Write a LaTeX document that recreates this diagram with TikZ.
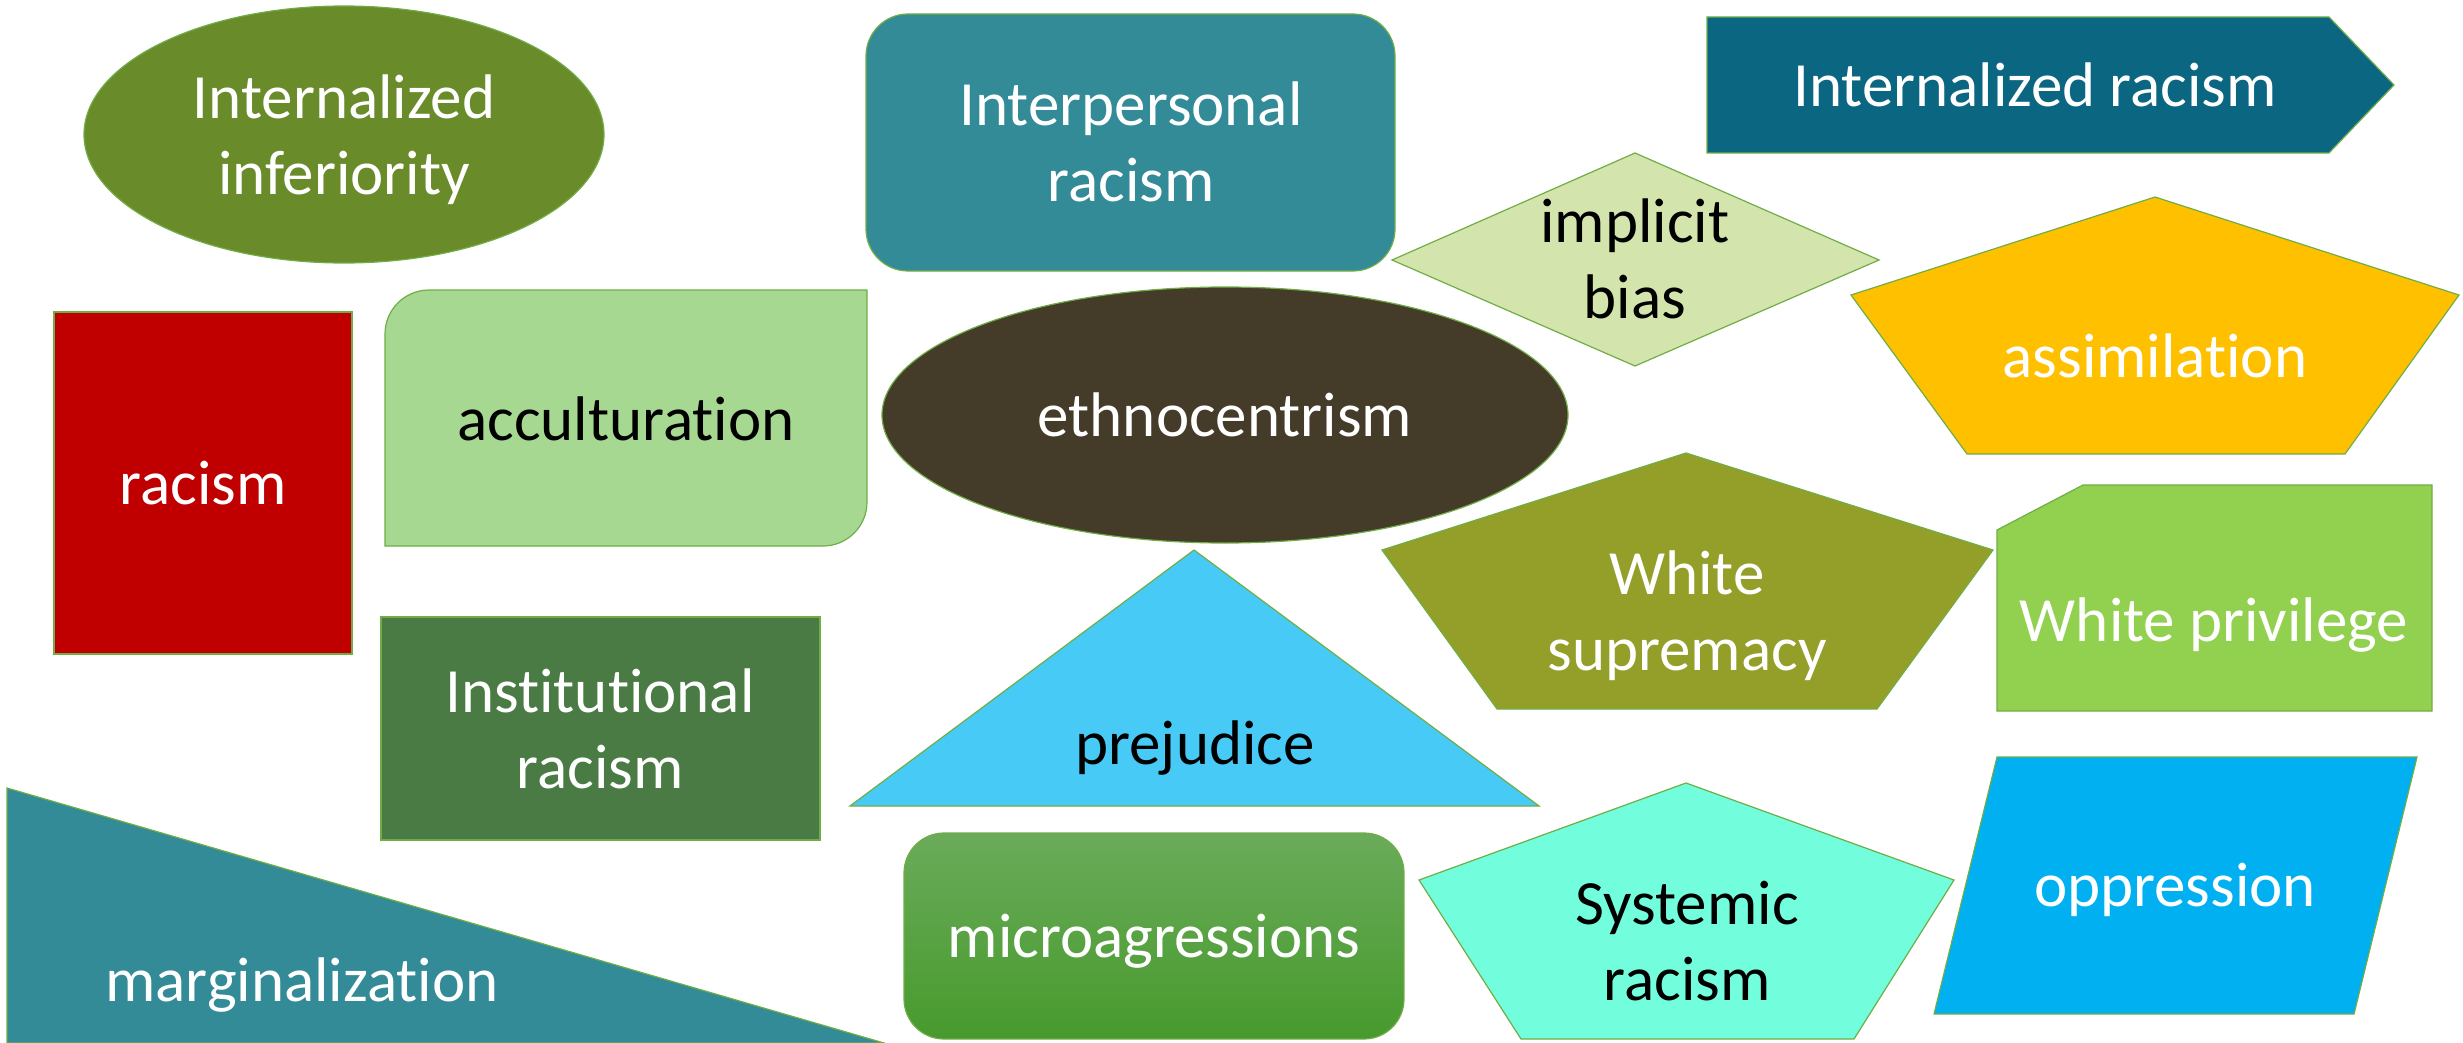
\documentclass[tikz,border=0pt]{standalone}
\usepackage{fontspec}
\setmainfont{Carlito}[Ligatures=NoCommon]
\definecolor{olv}{HTML}{6A8B2A}
\definecolor{tealc}{HTML}{338B97}
\definecolor{darkteal}{HTML}{0B6682}
\definecolor{palegreen}{HTML}{D3E5AC}
\definecolor{gold}{HTML}{FFC000}
\definecolor{redc}{HTML}{C00000}
\definecolor{accgreen}{HTML}{A6D892}
\definecolor{brownc}{HTML}{443B29}
\definecolor{olive2}{HTML}{949F2A}
\definecolor{limec}{HTML}{92D050}
\definecolor{instgreen}{HTML}{4A7B44}
\definecolor{skyc}{HTML}{47CBF6}
\definecolor{microtop}{HTML}{6AAB5A}
\definecolor{microbot}{HTML}{479A2D}
\definecolor{aquac}{HTML}{72FDDC}
\definecolor{bluec}{HTML}{00B0F0}
\definecolor{edgec}{HTML}{70AD47}
\tikzset{
  shp/.style={draw=edgec, line width=1.2pt, line join=miter},
  lbl/.style={font=\fontsize{63}{76}\selectfont, align=center, inner sep=0pt},
  wlbl/.style={lbl, text=white},
  blbl/.style={lbl, text=black}
}
\begin{document}
\begin{tikzpicture}[x=1pt,y=-1pt]
\useasboundingbox (0,0) rectangle (2463,1043);
% shapes
\path[shp, fill=olv] (344,134.5) ellipse [x radius=260, y radius=128.5];
\path[shp, fill=tealc, rounded corners=42pt] (866,14) rectangle (1395,271);
\path[shp, fill=darkteal] (1707,17) -- (2329,17) -- (2394,85) -- (2329,153) -- (1707,153) -- cycle;
\path[shp, fill=palegreen] (1635,153) -- (1879,260) -- (1635,366) -- (1392,260) -- cycle;
\path[shp, fill=gold] (2155,197) -- (2459,295) -- (2345,454) -- (1967,454) -- (1851,295) -- cycle;
\path[shp, fill=redc] (54,312) rectangle (352,654);
\path[shp, fill=accgreen] (385,546) -- (385,334) .. controls (385,309.7) and (404.7,290) .. (429,290) -- (867,290) -- (867,502) .. controls (867,526.3) and (847.3,546) .. (823,546) -- cycle;
\path[shp, fill=brownc] (1225,415) ellipse [x radius=343, y radius=128];
\path[shp, fill=olive2] (1686,453) -- (1993,550) -- (1877,709) -- (1497,709) -- (1382,550) -- cycle;
\path[shp, fill=limec] (1997,530) -- (2083,485) -- (2432,485) -- (2432,711) -- (1997,711) -- cycle;
\path[shp, fill=instgreen] (381,617) rectangle (820,840);
\path[shp, fill=skyc] (1194,550) -- (1539,806) -- (850,806) -- cycle;
\path[shp, fill=tealc] (7,788) -- (884,1043) -- (7,1043) -- cycle;
\path[shp, top color=microtop, bottom color=microbot, rounded corners=40pt] (904,833) rectangle (1404,1039);
\path[shp, fill=aquac] (1686,783) -- (1954,880) -- (1854,1039) -- (1521,1039) -- (1419,880) -- cycle;
\path[shp, fill=bluec] (1997,757) -- (2417,757) -- (2354,1014) -- (1934,1014) -- cycle;
% labels
\node[wlbl] (tinf) at (344,140) {Internalized\\inferiority};
\node[wlbl] (tinter) at (1131,142) {Interpersonal\\racism};
\node[wlbl, anchor=base] (tintr) at (2035,107) {Internalized racism};
\node[blbl] (timp) at (1635,259) {implicit\\bias};
\node[wlbl, anchor=base] (tass) at (2155,377) {assimilation};
\node[wlbl, anchor=base] (trac) at (203,504) {racism};
\node[blbl, anchor=base] (tacc) at (626,440) {acculturation};
\node[wlbl, anchor=base] (teth) at (1225,436) {ethnocentrism};
\node[wlbl] (tsup) at (1687,616) {White\\supremacy};
\node[wlbl, anchor=base] (tpriv) at (2214,641) {White privilege};
\node[wlbl] (tinst) at (600,729) {Institutional\\racism};
\node[blbl, anchor=base] (tprej) at (1195,764) {prejudice};
\node[wlbl, anchor=base] (tmarg) at (302,1001) {marginalization};
\node[wlbl, anchor=base] (tmic) at (1154,957) {microagressions};
\node[blbl] (tsys) at (1687,941) {Systemic\\racism};
\node[wlbl, anchor=base] (topp) at (2175,906) {oppression};
\end{tikzpicture}
\end{document}
